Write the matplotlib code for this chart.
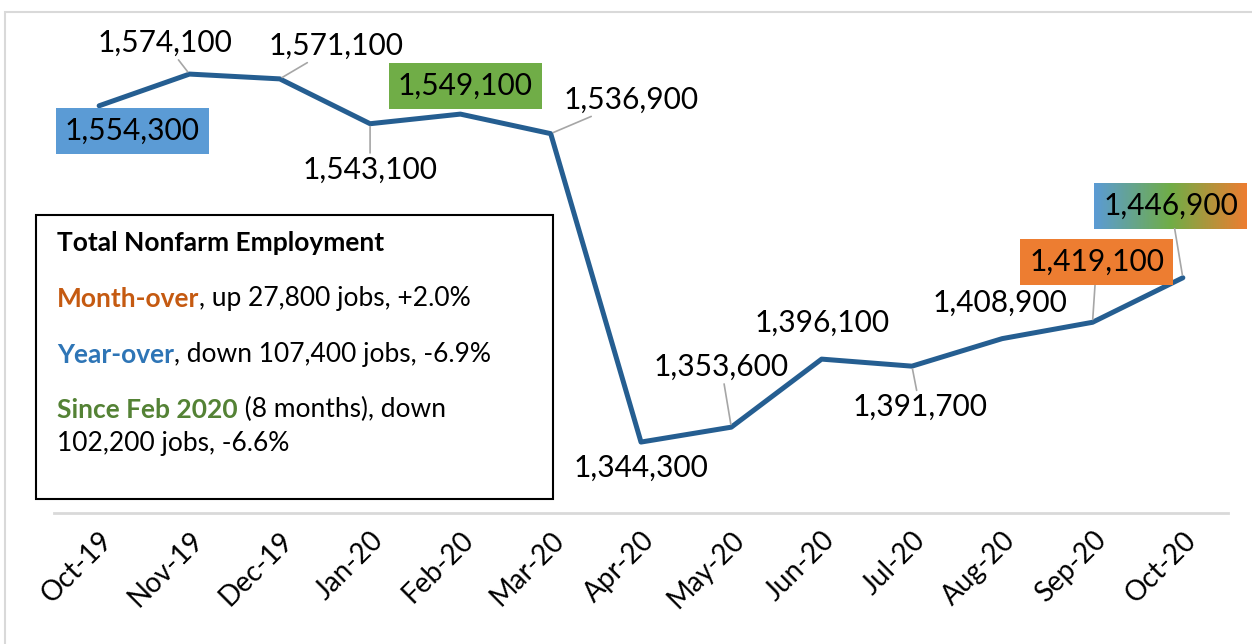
import numpy as np
import matplotlib
matplotlib.use("Agg")
import matplotlib.pyplot as plt
from matplotlib.patches import Rectangle

plt.rcParams['font.family'] = ['Lato', 'DejaVu Sans']

months = ['Oct-19', 'Nov-19', 'Dec-19', 'Jan-20', 'Feb-20', 'Mar-20', 'Apr-20',
          'May-20', 'Jun-20', 'Jul-20', 'Aug-20', 'Sep-20', 'Oct-20']
jobs = [1554300, 1574100, 1571100, 1543100, 1549100, 1536900, 1344300,
        1353600, 1396100, 1391700, 1408900, 1419100, 1446900]

# label offsets (pixels from point), box colour, leader line
offsets = [(33, -25), (-24, 31), (56, 33), (0, -46), (5, 28), (80, 34), (0, -26),
           (-10, 60), (0, 36), (8, -41), (-2, 36), (4, 60), (-12, 72)]
boxes = ['#5B9BD5', None, None, None, '#70AD47', None, None,
         None, None, None, None, '#ED7D31', 'gradient']
leaders = [False, True, True, True, False, True, False,
           True, False, True, False, True, True]

fig = plt.figure(figsize=(12.52, 6.44), dpi=100)
ax = fig.add_axes([54/1252, 1-513/644, (1228-54)/1252, (513-32.6)/644])

# outer chart frame
fig.add_artist(Rectangle((5/1252, -0.1), 1.2, 0.1 + (644-12)/644, transform=fig.transFigure,
                         fill=False, edgecolor='#D9D9D9', lw=1.5))

x = np.arange(len(months))
ax.plot(x, jobs, color='#255E91', lw=3.6, solid_capstyle='round', zorder=3)
ax.set_xlim(-0.5, len(months) - 0.5)
ax.set_ylim(1300000, 1600000)
for s in ['top', 'right', 'left']:
    ax.spines[s].set_visible(False)
ax.spines['bottom'].set_color('#D9D9D9')
ax.spines['bottom'].set_linewidth(2)
ax.set_yticks([])
ax.set_xticks(x)
ax.set_xticklabels(months, rotation=45, ha='right', rotation_mode='anchor', fontsize=20)
ax.tick_params(axis='x', length=0, pad=10)
ax.patch.set_alpha(0)

grad_label = None
for i, v in enumerate(jobs):
    bb = None
    if boxes[i] == 'gradient':
        bb = dict(boxstyle='square,pad=0.3', facecolor='none', edgecolor='none')
    elif boxes[i]:
        bb = dict(boxstyle='square,pad=0.3', facecolor=boxes[i], edgecolor='none')
    ap = None
    if leaders[i]:
        ap = dict(arrowstyle='-', color='#A6A6A6', lw=1.2, shrinkA=0, shrinkB=2)
    t = ax.annotate(f'{v:,}', xy=(i, v), xytext=offsets[i], textcoords='offset pixels',
                    ha='center', va='center', fontsize=21.5, bbox=bb, arrowprops=ap,
                    annotation_clip=False, zorder=5)
    if boxes[i] == 'gradient':
        grad_label = t

# gradient fill behind the last label
fig.canvas.draw()
ext = grad_label.get_bbox_patch().get_window_extent()
inv = ax.transData.inverted()
(x0, y0), (x1, y1) = inv.transform([(ext.x0, ext.y0), (ext.x1, ext.y1)])
grad_cmap = matplotlib.colors.LinearSegmentedColormap.from_list(
    'g', ['#5B9BD5', '#70AD47', '#ED7D31'])
im = ax.imshow(np.linspace(0, 1, 256)[None, :], cmap=grad_cmap, aspect='auto',
               extent=(x0, x1, y0, y1), zorder=4)
im.set_clip_on(False)
ax.set_xlim(-0.5, len(months) - 0.5)
ax.set_ylim(1300000, 1600000)

# summary box
fig.add_artist(Rectangle((36/1252, 1-499/644), (553-36)/1252, (499-215)/644,
                         transform=fig.transFigure, fill=False, edgecolor='black', lw=1.5))
fx = 57/1252
t0 = ax.text(fx, 1-243/644, 'Total Nonfarm Employment', transform=fig.transFigure,
             fontsize=19, fontweight='bold', va='center')

def runs(y, parts):
    prev = None
    for txt, col, wt in parts:
        if prev is None:
            prev = ax.text(fx, y, txt, transform=fig.transFigure, fontsize=19,
                           color=col, fontweight=wt, va='center')
        else:
            prev = ax.annotate(txt, xy=(1, 0), xycoords=prev, fontsize=19, color=col,
                               fontweight=wt, va='bottom', ha='left', annotation_clip=False)

runs(1-299/644, [('Month-over', '#C55A11', 'bold'), (', up 27,800 jobs, +2.0%', 'black', 'normal')])
runs(1-355/644, [('Year-over', '#2E75B6', 'bold'), (', down 107,400 jobs, -6.9%', 'black', 'normal')])
runs(1-410/644, [('Since Feb 2020', '#548235', 'bold'), (' (8 months), down', 'black', 'normal')])
runs(1-443/644, [('102,200 jobs, -6.6%', 'black', 'normal')])

fig.savefig('out.png', dpi=100)
